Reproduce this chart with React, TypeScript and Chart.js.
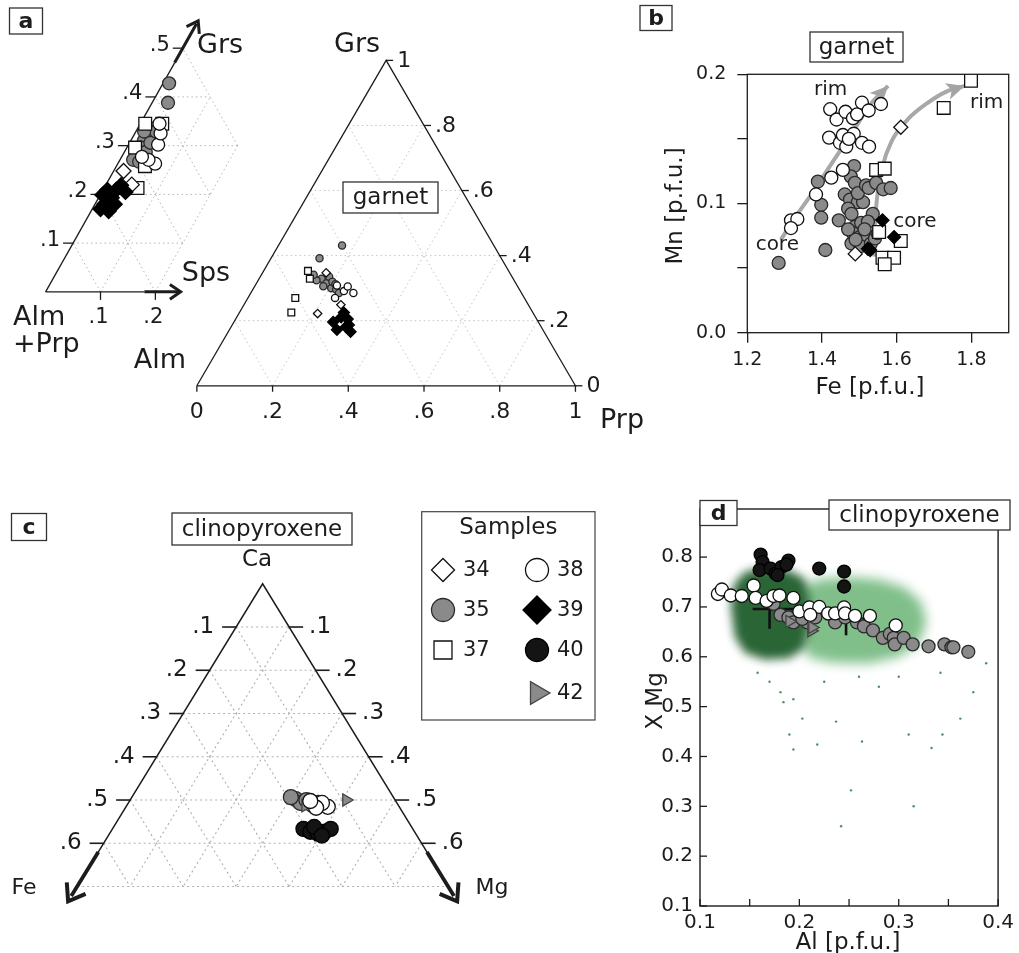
import React, { useEffect, useRef } from "react";
import { Chart, registerables } from "chart.js";

Chart.register(...registerables);

const FONT = "'DejaVu Sans', sans-serif";
const INK = "#1c1c1c";
const S3 = Math.sqrt(3) / 2;

/* ================= DATA ================= */
// Panel a (left): zoomed garnet ternary, points as [Sps, Grs]
const A1_GRS_TICKS = [0.1, 0.2, 0.3, 0.4, 0.5];
const A1_SPS_TICKS = [0.1, 0.2];
const A1_34 = [[0.018, 0.248], [0.047, 0.22]];
const A1_35 = [[0.011, 0.428], [0.029, 0.388], [0.029, 0.335], [0.027, 0.322], [0.024, 0.31], [0.026, 0.296], [0.026, 0.283], [0.024, 0.271], [0.039, 0.287], [0.038, 0.306], [0.037, 0.329], [0.015, 0.329], [0.037, 0.267]];
const A1_37 = [[0.009, 0.345], [0.04, 0.345], [0.052, 0.258], [0.061, 0.213], [0.015, 0.296]];
const A1_38 = [[0.054, 0.302], [0.047, 0.325], [0.068, 0.263], [0.052, 0.271], [0.035, 0.345], [0.037, 0.277]];
const A1_39 = [[0.017, 0.18], [0.004, 0.199], [0.008, 0.209], [0.024, 0.193], [0.024, 0.209], [0.028, 0.219], [0.043, 0.205], [0.032, 0.166], [0.036, 0.18], [0.015, 0.17]];

// Panel a (right): garnet ternary Alm–Prp–Grs, points as [Prp, Grs]
const A2_TICKS = [0, 0.2, 0.4, 0.6, 0.8, 1];
const A2_34 = [[0.208, 0.222], [0.256, 0.249], [0.168, 0.347]];
const A2_35 = [[0.168, 0.431], [0.128, 0.392], [0.165, 0.329], [0.185, 0.315], [0.205, 0.3], [0.22, 0.296], [0.181, 0.306], [0.182, 0.335], [0.233, 0.285], [0.154, 0.324], [0.138, 0.341], [0.198, 0.32], [0.21, 0.312]];
const A2_37 = [[0.125, 0.27], [0.137, 0.225], [0.117, 0.353], [0.134, 0.329]];
const A2_38 = [[0.271, 0.285], [0.243, 0.291], [0.216, 0.308], [0.246, 0.305], [0.23, 0.27]];
const A2_39 = [[0.262, 0.196], [0.276, 0.21], [0.296, 0.205], [0.303, 0.181], [0.323, 0.166], [0.284, 0.172], [0.276, 0.225], [0.308, 0.187]];

// Panel b: garnet Fe vs Mn [p.f.u.], points as [Fe, Mn]
const B_X_TICKS = [1.2, 1.4, 1.6, 1.8];
const B_Y_TICKS = [0, 0.05, 0.1, 0.15, 0.2];
const B_34 = [[1.611, 0.159], [1.489, 0.061]];
const B_35 = [[1.284, 0.054], [1.409, 0.064], [1.389, 0.117], [1.398, 0.099], [1.398, 0.089], [1.445, 0.087], [1.486, 0.129], [1.477, 0.121], [1.488, 0.116], [1.461, 0.107], [1.475, 0.103], [1.496, 0.101], [1.51, 0.101], [1.47, 0.096], [1.479, 0.092], [1.496, 0.108], [1.518, 0.114], [1.525, 0.112], [1.545, 0.116], [1.564, 0.111], [1.584, 0.112], [1.536, 0.092], [1.488, 0.082], [1.505, 0.085], [1.523, 0.086], [1.483, 0.077], [1.501, 0.074], [1.518, 0.072], [1.479, 0.069], [1.503, 0.067], [1.531, 0.069], [1.542, 0.073], [1.549, 0.077], [1.49, 0.072], [1.47, 0.08], [1.514, 0.08]];
const B_37 = [[1.799, 0.195], [1.726, 0.174], [1.545, 0.126], [1.568, 0.127], [1.553, 0.078], [1.611, 0.071], [1.562, 0.058], [1.593, 0.058], [1.568, 0.053]];
const B_38 = [[1.422, 0.173], [1.439, 0.165], [1.463, 0.171], [1.483, 0.166], [1.494, 0.169], [1.507, 0.178], [1.525, 0.172], [1.558, 0.177], [1.419, 0.151], [1.448, 0.147], [1.456, 0.153], [1.465, 0.144], [1.485, 0.154], [1.507, 0.147], [1.526, 0.144], [1.425, 0.12], [1.456, 0.126], [1.384, 0.107], [1.317, 0.087], [1.334, 0.088], [1.317, 0.081], [1.472, 0.15]];
const B_39 = [[1.562, 0.087], [1.593, 0.074], [1.523, 0.065], [1.529, 0.064]];
const B_ARROW_1 = [[1.29, 0.072], [1.33, 0.09], [1.374, 0.108], [1.426, 0.131], [1.479, 0.154], [1.532, 0.1775], [1.577, 0.191]];
const B_ARROW_2 = [[1.54, 0.059], [1.542, 0.082], [1.547, 0.103], [1.562, 0.1285], [1.588, 0.149], [1.628, 0.1646], [1.681, 0.1775], [1.733, 0.1866], [1.782, 0.191]];

// Panel c: clinopyroxene ternary Ca–Fe–Mg, points as [Ca, Mg]
const C_TICKS = [0.1, 0.2, 0.3, 0.4, 0.5, 0.6];
const C_35 = [[0.5022, 0.3113], [0.4933, 0.325], [0.5, 0.3326], [0.4889, 0.349], [0.4933, 0.358], [0.5067, 0.2999]];
const C_38 = [[0.4844, 0.3807], [0.4933, 0.3653], [0.4822, 0.3598], [0.4978, 0.341]];
const C_40 = [[0.4333, 0.3604], [0.4267, 0.3766], [0.4222, 0.3935], [0.4267, 0.404], [0.4333, 0.4118], [0.4378, 0.3783], [0.4178, 0.403]];
const C_42 = [[0.5, 0.4078], [0.4867, 0.3374]];

// Legend
const LEGEND_TITLE = "Samples";
const LEGEND_ROWS = [["34", "38"], ["35", "39"], ["37", "40"], [null, "42"]];

// Panel d: clinopyroxene Al vs X Mg, points as [Al, XMg]
const D_X_TICKS = [0.1, 0.15, 0.2, 0.25, 0.3, 0.35, 0.4];
const D_Y_TICKS = [0.1, 0.2, 0.3, 0.4, 0.5, 0.6, 0.7, 0.8];
const D_35 = [[0.174, 0.706], [0.181, 0.684], [0.189, 0.679], [0.194, 0.669], [0.208, 0.669], [0.203, 0.676], [0.216, 0.679], [0.236, 0.669], [0.246, 0.679], [0.258, 0.669], [0.265, 0.661], [0.274, 0.653], [0.284, 0.638], [0.291, 0.646], [0.295, 0.638], [0.296, 0.625], [0.305, 0.638], [0.314, 0.625], [0.33, 0.621], [0.346, 0.625], [0.353, 0.619], [0.355, 0.619], [0.37, 0.61]];
const D_38 = [[0.118, 0.726], [0.122, 0.735], [0.131, 0.723], [0.142, 0.722], [0.154, 0.743], [0.156, 0.718], [0.167, 0.712], [0.174, 0.722], [0.18, 0.723], [0.194, 0.718], [0.2, 0.691], [0.21, 0.699], [0.22, 0.7], [0.211, 0.684], [0.229, 0.687], [0.236, 0.687], [0.245, 0.699], [0.246, 0.687], [0.256, 0.682], [0.271, 0.682], [0.297, 0.663]];
const D_40 = [[0.161, 0.805], [0.163, 0.79], [0.16, 0.774], [0.171, 0.777], [0.176, 0.767], [0.182, 0.78], [0.189, 0.793], [0.178, 0.764], [0.187, 0.785], [0.22, 0.777], [0.245, 0.771], [0.245, 0.741]];
const D_42 = [[0.19, 0.671], [0.212, 0.652], [0.213, 0.659]];
const D_ERR_H1 = [[0.153, 0.696], [0.194, 0.696]];
const D_ERR_V1 = [[0.17, 0.656], [0.17, 0.718]];
const D_ERR_H2 = [[0.226, 0.676], [0.276, 0.676]];
const D_ERR_V2 = [[0.247, 0.643], [0.247, 0.705]];
const D_CLOUD_LIGHT = [[0.2, 0.738], [0.22, 0.755], [0.25, 0.76], [0.28, 0.755], [0.305, 0.74], [0.322, 0.712], [0.328, 0.67], [0.32, 0.626], [0.3, 0.6], [0.27, 0.587], [0.235, 0.588], [0.21, 0.598], [0.2, 0.64]];
const D_CLOUD_DARK = [[0.134, 0.745], [0.145, 0.77], [0.165, 0.779], [0.19, 0.773], [0.205, 0.757], [0.21, 0.72], [0.209, 0.66], [0.205, 0.617], [0.19, 0.597], [0.165, 0.594], [0.145, 0.608], [0.135, 0.64], [0.131, 0.7]];
const D_SPECKS = [[0.194, 0.515], [0.184, 0.509], [0.203, 0.476], [0.19, 0.444], [0.194, 0.414], [0.218, 0.424], [0.237, 0.47], [0.263, 0.43], [0.252, 0.332], [0.242, 0.26], [0.31, 0.444], [0.333, 0.417], [0.344, 0.444], [0.315, 0.3], [0.375, 0.529], [0.181, 0.529], [0.158, 0.568], [0.342, 0.568], [0.362, 0.476], [0.388, 0.587], [0.17, 0.55], [0.28, 0.54], [0.3, 0.56], [0.225, 0.55], [0.26, 0.56]];

/* ================= STYLES ================= */
const MARK: Record<string, any> = {
  "34": { ps: "rectRot", bg: "#ffffff", bd: "#111111" },
  "35": { ps: "circle", bg: "#8a8a8a", bd: "#2a2a2a" },
  "37": { ps: "rect", bg: "#ffffff", bd: "#111111" },
  "38": { ps: "circle", bg: "#ffffff", bd: "#111111" },
  "39": { ps: "rectRot", bg: "#000000", bd: "#000000" },
  "40": { ps: "circle", bg: "#141414", bd: "#000000" },
  "42": { ps: "triangle", bg: "#8a8a8a", bd: "#444444", rot: 90 },
};
const LEG_R: Record<string, number> = { "34": 11.5, "35": 11.5, "37": 12.7, "38": 11.5, "39": 14, "40": 11.5, "42": 13 };

/* ================= HELPERS ================= */
const fmtT = (v: number) => (v === 0 ? "0" : v === 1 ? "1" : v.toFixed(1).replace(/^0/, ""));
const a1 = (s: number, g: number) => ({ x: s + g / 2, y: g * S3 });
const a2 = (p: number, g: number) => ({ x: p + g / 2, y: g * S3 });
const cxy = (ca: number, mg: number) => ({ x: (2 * mg + ca - 1) / 2, y: ca });
const xy = (a: number, b: number) => ({ x: a, y: b });

function pts(arr: number[][], f: (a: number, b: number) => { x: number; y: number }) {
  return arr.map(([a, b]) => f(a, b));
}

function setOf(sample: string, data: any[], r: number, order = 0) {
  const m = MARK[sample];
  return {
    label: sample,
    data,
    pointStyle: m.ps,
    pointRadius: r,
    pointRotation: m.rot || 0,
    pointBackgroundColor: m.bg,
    pointBorderColor: m.bd,
    pointBorderWidth: 1.3,
    showLine: false,
    order,
  };
}

function text(ctx: any, s: string, x: number, y: number, size: number, o: any = {}) {
  ctx.save();
  ctx.font = `${o.bold ? "bold " : ""}${size}px ${FONT}`;
  ctx.fillStyle = o.color || INK;
  ctx.textAlign = o.align || "center";
  ctx.textBaseline = o.baseline || "middle";
  ctx.translate(x, y);
  if (o.rot) ctx.rotate(o.rot);
  ctx.fillText(s, 0, 0);
  ctx.restore();
}

function boxText(ctx: any, s: string, cx: number, cy: number, w: number, h: number, size: number, bold = false) {
  ctx.save();
  ctx.fillStyle = "#ffffff";
  ctx.fillRect(cx - w / 2, cy - h / 2, w, h);
  ctx.strokeStyle = "#333333";
  ctx.lineWidth = 1.3;
  ctx.strokeRect(cx - w / 2, cy - h / 2, w, h);
  ctx.restore();
  text(ctx, s, cx, cy + 1, size, { bold });
}

function seg(ctx: any, p: number[][], lw: number, color = INK, dash: number[] = []) {
  ctx.save();
  ctx.strokeStyle = color;
  ctx.lineWidth = lw;
  ctx.setLineDash(dash);
  ctx.beginPath();
  p.forEach((q, i) => (i ? ctx.lineTo(q[0], q[1]) : ctx.moveTo(q[0], q[1])));
  ctx.stroke();
  ctx.restore();
}

function chevron(ctx: any, tip: number[], from: number[], len: number, lw: number, half = 0.6) {
  const a = Math.atan2(tip[1] - from[1], tip[0] - from[0]);
  const p1 = [tip[0] - len * Math.cos(a - half), tip[1] - len * Math.sin(a - half)];
  const p2 = [tip[0] - len * Math.cos(a + half), tip[1] - len * Math.sin(a + half)];
  ctx.save();
  ctx.lineJoin = "miter";
  seg(ctx, [p1, tip, p2], lw);
  ctx.restore();
}

function marker(ctx: any, sample: string, x: number, y: number, r: number) {
  const m = MARK[sample];
  ctx.save();
  ctx.fillStyle = m.bg;
  ctx.strokeStyle = m.bd;
  ctx.lineWidth = 1.3;
  ctx.beginPath();
  if (m.ps === "circle") ctx.arc(x, y, r, 0, Math.PI * 2);
  else if (m.ps === "rect") {
    const s = r * Math.SQRT1_2;
    ctx.rect(x - s, y - s, 2 * s, 2 * s);
  } else if (m.ps === "rectRot") {
    ctx.moveTo(x, y - r);
    ctx.lineTo(x + r, y);
    ctx.lineTo(x, y + r);
    ctx.lineTo(x - r, y);
    ctx.closePath();
  } else {
    const a = ((m.rot || 0) * Math.PI) / 180;
    for (let i = 0; i < 3; i++) {
      const t = a + (i * 2 * Math.PI) / 3;
      const qx = x + Math.sin(t) * r;
      const qy = y - Math.cos(t) * r;
      if (i) ctx.lineTo(qx, qy);
      else ctx.moveTo(qx, qy);
    }
    ctx.closePath();
  }
  ctx.fill();
  ctx.stroke();
  ctx.restore();
}

const pix = (c: any, x: number, y: number) => [c.scales.x.getPixelForValue(x), c.scales.y.getPixelForValue(y)];

function ternOpts(w: number, h: number, ox: number, oy: number, kx: number, ky: number) {
  return {
    responsive: false,
    animation: false,
    events: [],
    layout: { padding: 0 },
    plugins: { legend: { display: false }, tooltip: { enabled: false } },
    scales: {
      x: { type: "linear", display: false, min: -ox / kx, max: (w - ox) / kx },
      y: { type: "linear", display: false, min: -(h - oy) / ky, max: oy / ky },
    },
  };
}

/* ================= PANEL a (left) ================= */
const a1Plugin = {
  id: "a1deco",
  beforeDatasetsDraw(c: any) {
    const ctx = c.ctx;
    const P = (s: number, g: number) => {
      const q = a1(s, g);
      return pix(c, q.x, q.y);
    };
    const dot = [1.5, 3];
    for (const g of [0.1, 0.2, 0.3, 0.4]) seg(ctx, [P(0, g), P(Math.min(0.2, 0.5 - g), g)], 1, "#b4b4b4", dot);
    for (const s of [0.1, 0.2]) seg(ctx, [P(s, 0), P(s, 0.5 - s)], 1, "#b4b4b4", dot);
    for (const a of [0.9, 0.8, 0.7, 0.6, 0.5]) {
      const k = 1 - a;
      const s0 = Math.min(0.2, k);
      seg(ctx, [P(s0, k - s0), P(0, k)], 1, "#b4b4b4", dot);
    }
    seg(ctx, [P(0, 0), P(0, 0.47)], 1.3);
    seg(ctx, [P(0, 0.47), P(0, 0.55)], 3);
    chevron(ctx, P(0, 0.556), P(0, 0.5), 13, 3);
    seg(ctx, [P(0, 0), P(0.18, 0)], 1.3);
    seg(ctx, [P(0.18, 0), P(0.242, 0)], 3);
    chevron(ctx, P(0.246, 0), P(0.2, 0), 13, 3);
    for (const g of A1_GRS_TICKS) {
      const [x, y] = P(0, g);
      seg(ctx, [[x, y], [x - 10, y]], 1.3);
      text(ctx, fmtT(g), x - 13, y - 3, 21, { align: "right" });
    }
    for (const s of A1_SPS_TICKS) {
      const [x, y] = P(s, 0);
      seg(ctx, [[x, y], [x, y + 8]], 1.3);
      text(ctx, fmtT(s), x - 2, y + 26, 21);
    }
    text(ctx, "Grs", 220, 46, 27);
    text(ctx, "Sps", 206, 274, 27);
    text(ctx, "Alm", 13, 318, 27, { align: "left" });
    text(ctx, "+Prp", 13, 345, 27, { align: "left" });
    boxText(ctx, "a", 26, 21, 33, 26, 22, true);
  },
};

const configA1 = () => ({
  type: "scatter",
  data: {
    datasets: [
      setOf("39", pts(A1_39, a1), 7.5, 1),
      setOf("34", pts(A1_34, a1), 7.5, 2),
      setOf("38", pts(A1_38, a1), 6.5, 3),
      setOf("37", pts(A1_37, a1), 9, 4),
      setOf("35", pts(A1_35, a1), 6.5, 5),
    ],
  },
  options: ternOpts(265, 380, 38.3, 297.7, 595, 595),
  plugins: [a1Plugin],
});

/* ================= PANEL a (right) ================= */
// canvas placed at page (100, 20)
const a2Plugin = {
  id: "a2deco",
  beforeDatasetsDraw(c: any) {
    const ctx = c.ctx;
    const P = (p: number, g: number) => {
      const q = a2(p, g);
      return pix(c, q.x, q.y);
    };
    const dot = [1.5, 3];
    for (const v of [0.2, 0.4, 0.6, 0.8]) {
      seg(ctx, [P(0, v), P(1 - v, v)], 1, "#c4c4c4", dot);
      seg(ctx, [P(v, 0), P(v, 1 - v)], 1, "#c4c4c4", dot);
      seg(ctx, [P(1 - v, 0), P(0, 1 - v)], 1, "#c4c4c4", dot);
    }
    seg(ctx, [P(0, 0), P(1, 0), P(0, 1), P(0, 0)], 1.3);
    for (const v of A2_TICKS) {
      const [x, y] = P(v, 0);
      seg(ctx, [[x, y], [x, y + 6]], 1.3);
      text(ctx, fmtT(v), x, y + 27, 22);
      const [rx, ry] = P(1 - v, v);
      seg(ctx, [[rx, ry], [rx + 7, ry]], 1.3);
      text(ctx, fmtT(v), rx + 11, ry + 1, 22, { align: "left" });
    }
    text(ctx, "Grs", 257, 25, 27);
    text(ctx, "Alm", 86, 341, 27, { align: "right" });
    text(ctx, "Prp", 522, 401, 27);
  },
  afterDraw(c: any) {
    boxText(c.ctx, "garnet", 290.5, 177.5, 95, 31, 23);
  },
};

const configA2 = () => ({
  type: "scatter",
  data: {
    datasets: [
      setOf("39", pts(A2_39, a2), 5.5, 1),
      setOf("34", pts(A2_34, a2), 4.2, 2),
      setOf("38", pts(A2_38, a2), 3.6, 3),
      setOf("37", pts(A2_37, a2), 4.8, 4),
      setOf("35", pts(A2_35, a2), 3.6, 5),
    ],
  },
  options: ternOpts(560, 430, 92.3, 370.7, 388, 388),
  plugins: [a2Plugin],
});

/* ================= PANEL b ================= */
const bPlugin = {
  id: "bdeco",
  beforeDatasetsDraw(c: any) {
    const { left, top, right, bottom } = c.chartArea;
    c.ctx.save();
    c.ctx.strokeStyle = INK;
    c.ctx.lineWidth = 1.3;
    c.ctx.strokeRect(left, top, right - left, bottom - top);
    c.ctx.restore();
  },
  afterDatasetDraw(c: any, args: any) {
    const ds = c.data.datasets[args.index];
    if (!ds.arrowHead) return;
    const els = args.meta.data;
    const e = els[els.length - 1];
    const p = els[els.length - 2];
    let dx = e.x - (e.cp1x ?? p.x);
    let dy = e.y - (e.cp1y ?? p.y);
    if (Math.hypot(dx, dy) < 1) {
      dx = e.x - p.x;
      dy = e.y - p.y;
    }
    const a = Math.atan2(dy, dx);
    const L = 18;
    const W = 8.5;
    const ctx = c.ctx;
    ctx.save();
    ctx.fillStyle = "#a4a4a4";
    ctx.beginPath();
    ctx.moveTo(e.x, e.y);
    ctx.lineTo(e.x - L * Math.cos(a) + W * Math.sin(a), e.y - L * Math.sin(a) - W * Math.cos(a));
    ctx.lineTo(e.x - 0.75 * L * Math.cos(a), e.y - 0.75 * L * Math.sin(a));
    ctx.lineTo(e.x - L * Math.cos(a) - W * Math.sin(a), e.y - L * Math.sin(a) + W * Math.cos(a));
    ctx.closePath();
    ctx.fill();
    ctx.restore();
  },
  afterDraw(c: any) {
    const ctx = c.ctx;
    text(ctx, "rim", 200.7, 90, 20);
    text(ctx, "rim", 356.7, 103, 20);
    text(ctx, "core", 147.3, 245, 20);
    text(ctx, "core", 285, 222, 20);
    text(ctx, "Fe [p.f.u.]", 240, 388, 23);
    text(ctx, "Mn [p.f.u.]", 46, 206, 23, { rot: -Math.PI / 2 });
    boxText(ctx, "garnet", 226.5, 47, 93, 30, 23);
    boxText(ctx, "b", 26, 18, 32, 25, 22, true);
  },
};

const arrowSet = (arr: number[][]) => ({
  data: pts(arr, xy),
  showLine: true,
  borderColor: "#a8a8a8",
  borderWidth: 4,
  pointRadius: 0,
  cubicInterpolationMode: "monotone",
  fill: false,
  order: 10,
  arrowHead: true,
});

const configB = () => ({
  type: "scatter",
  data: {
    datasets: [
      arrowSet(B_ARROW_1),
      arrowSet(B_ARROW_2),
      setOf("39", pts(B_39, xy), 6.5, 1),
      setOf("34", pts(B_34, xy), 7, 2),
      setOf("37", pts(B_37, xy), 9, 2),
      setOf("38", pts(B_38, xy), 6.5, 3),
      setOf("35", pts(B_35, xy), 6.5, 4),
    ],
  },
  options: {
    responsive: false,
    animation: false,
    events: [],
    layout: { padding: { left: 0, top: 74.3, right: 7, bottom: 0 } },
    plugins: { legend: { display: false }, tooltip: { enabled: false } },
    scales: {
      x: {
        type: "linear",
        min: 1.2,
        max: 1.9,
        afterBuildTicks: (s: any) => {
          s.ticks = B_X_TICKS.map((v) => ({ value: v }));
        },
        afterFit: (s: any) => {
          s.height = 77.3;
        },
        grid: { drawOnChartArea: false, tickLength: 10, color: INK, lineWidth: 1.3 },
        border: { display: false },
        ticks: { autoSkip: false, maxRotation: 0, padding: 6, color: INK, font: { family: FONT, size: 19 }, callback: (v: number) => v.toFixed(1) },
      },
      y: {
        type: "linear",
        min: 0,
        max: 0.2,
        afterBuildTicks: (s: any) => {
          s.ticks = B_Y_TICKS.map((v) => ({ value: v }));
        },
        afterFit: (s: any) => {
          s.width = 117.3;
        },
        grid: { drawOnChartArea: false, tickLength: 10, color: INK, lineWidth: 1.3 },
        border: { display: false },
        ticks: {
          autoSkip: false,
          padding: 11,
          color: INK,
          font: { family: FONT, size: 19 },
          callback: (v: number) => (Math.round(v * 100) % 10 === 0 ? v.toFixed(1) : ""),
        },
      },
    },
  },
  plugins: [bPlugin],
});

/* ================= PANEL c ================= */
const cPlugin = {
  id: "cdeco",
  beforeDatasetsDraw(c: any) {
    const ctx = c.ctx;
    const P = (ca: number, mg: number) => {
      const q = cxy(ca, mg);
      return pix(c, q.x, q.y);
    };
    const dot = [2, 3];
    const gc = "#b0b0b0";
    for (let i = 1; i <= 7; i++) {
      const t = i / 10;
      seg(ctx, [P(1 - t, 0), P(1 - t, t)], 1.1, gc, dot);
      seg(ctx, [P(1 - t, 0), P(0.3, 0.7 - t)], 1.1, gc, dot);
      seg(ctx, [P(1 - t, t), P(0.3, t)], 1.1, gc, dot);
    }
    seg(ctx, [P(1 - 0.625, 0), P(1, 0), P(1 - 0.625, 0.625)], 1.5);
    seg(ctx, [P(1 - 0.62, 0), P(1 - 0.722, 0)], 3.8);
    seg(ctx, [P(1 - 0.62, 0.62), P(1 - 0.722, 0.722)], 3.8);
    chevron(ctx, P(1 - 0.734, 0), P(1 - 0.6, 0), 19, 4, 0.62);
    chevron(ctx, P(1 - 0.734, 0.734), P(1 - 0.6, 0.6), 19, 4, 0.62);
    for (const t of C_TICKS) {
      const [lx, ly] = P(1 - t, 0);
      seg(ctx, [[lx, ly], [lx - 14, ly]], 1.6);
      text(ctx, fmtT(t), lx - 22, ly, 23, { align: "right" });
      const [rx, ry] = P(1 - t, t);
      seg(ctx, [[rx, ry], [rx + 14, ry]], 1.6);
      text(ctx, fmtT(t), rx + 20, ry, 23, { align: "left" });
    }
    text(ctx, "Ca", 257, 60, 23);
    text(ctx, "Fe", 24, 388, 22);
    text(ctx, "Mg", 492, 388, 22);
  },
  afterDraw(c: any) {
    const ctx = c.ctx;
    boxText(ctx, "clinopyroxene", 262, 29, 180, 32, 23);
    boxText(ctx, "c", 29, 27, 35, 27, 22, true);
    ctx.save();
    ctx.strokeStyle = "#444444";
    ctx.lineWidth = 1.2;
    ctx.strokeRect(421.7, 11.7, 173.3, 208.3);
    ctx.restore();
    text(ctx, LEGEND_TITLE, 508.3, 28, 23);
    const rowsY = [70, 110, 150, 193];
    LEGEND_ROWS.forEach((row, i) => {
      row.forEach((s, j) => {
        if (!s) return;
        const mx = j === 0 ? 443 : 537;
        marker(ctx, s, mx, rowsY[i], LEG_R[s]);
        text(ctx, s, mx + 20, rowsY[i] + 1, 21, { align: "left" });
      });
    });
  },
};

const configC = () => ({
  type: "scatter",
  data: {
    datasets: [
      setOf("40", pts(C_40, cxy), 7.5, 1),
      setOf("38", pts(C_38, cxy), 7.5, 2),
      setOf("42", pts(C_42, cxy), 7, 3),
      setOf("35", pts(C_35, cxy), 7.5, 4),
    ],
  },
  options: ternOpts(640, 453, 261, 528, 545, 450),
  plugins: [cPlugin],
});

/* ================= PANEL d ================= */
const dPlugin = {
  id: "ddeco",
  beforeDatasetsDraw(c: any) {
    const ctx = c.ctx;
    const poly = (arr: number[][], color: string, blur: number) => {
      ctx.save();
      ctx.filter = `blur(${blur}px)`;
      ctx.fillStyle = color;
      ctx.beginPath();
      arr.forEach(([a, b], i) => {
        const [x, y] = pix(c, a, b);
        if (i) ctx.lineTo(x, y);
        else ctx.moveTo(x, y);
      });
      ctx.closePath();
      ctx.fill();
      ctx.restore();
    };
    poly(D_CLOUD_LIGHT, "#80bf8a", 6);
    poly(D_CLOUD_DARK, "#2a6536", 5);
  },
  afterDatasetsDraw(c: any) {
    const ctx = c.ctx;
    const { left, top, right, bottom } = c.chartArea;
    ctx.save();
    ctx.strokeStyle = INK;
    ctx.lineWidth = 1.4;
    ctx.strokeRect(left, top, right - left, bottom - top);
    ctx.restore();
    for (const v of D_X_TICKS) {
      const x = c.scales.x.getPixelForValue(v);
      seg(ctx, [[x, bottom], [x, bottom - 7]], 1.3);
    }
    for (const v of D_Y_TICKS) {
      const y = c.scales.y.getPixelForValue(v);
      seg(ctx, [[left, y], [left + 7, y]], 1.3);
    }
  },
  afterDraw(c: any) {
    const ctx = c.ctx;
    boxText(ctx, "d", 78.5, 23, 37, 25, 22, true);
    boxText(ctx, "clinopyroxene", 279.5, 25, 181, 30, 23);
    text(ctx, "Al [p.f.u.]", 208, 453, 23);
    text(ctx, "X Mg", 16, 211, 23, { rot: -Math.PI / 2 });
  },
};

const lineSet = (arr: number[][]) => ({
  data: pts(arr, xy),
  showLine: true,
  borderColor: "#111111",
  borderWidth: 2.6,
  pointRadius: 0,
  fill: false,
  order: 6,
});

const configD = () => ({
  type: "scatter",
  data: {
    datasets: [
      {
        data: pts(D_SPECKS, xy),
        pointRadius: 1.2,
        pointBackgroundColor: "#4d8f5a",
        pointBorderWidth: 0,
        showLine: false,
        order: 12,
      },
      lineSet(D_ERR_H1),
      lineSet(D_ERR_V1),
      lineSet(D_ERR_H2),
      lineSet(D_ERR_V2),
      setOf("40", pts(D_40, xy), 6.5, 2),
      setOf("38", pts(D_38, xy), 6.5, 2),
      setOf("42", pts(D_42, xy), 7, 1),
      setOf("35", pts(D_35, xy), 6.5, 3),
    ],
  },
  options: {
    responsive: false,
    animation: false,
    events: [],
    layout: { padding: { left: 0, top: 9, right: 9.7, bottom: 0 } },
    plugins: { legend: { display: false }, tooltip: { enabled: false } },
    scales: {
      x: {
        type: "linear",
        min: 0.1,
        max: 0.4,
        afterBuildTicks: (s: any) => {
          s.ticks = D_X_TICKS.map((v) => ({ value: v }));
        },
        afterFit: (s: any) => {
          s.height = 47;
        },
        grid: { display: false, drawTicks: false },
        border: { display: false },
        ticks: {
          autoSkip: false,
          maxRotation: 0,
          padding: 5,
          color: INK,
          font: { family: FONT, size: 20 },
          callback: (v: number) => (Math.round(v * 100) % 10 === 0 ? v.toFixed(1) : ""),
        },
      },
      y: {
        type: "linear",
        min: 0.1,
        max: 0.8965,
        afterBuildTicks: (s: any) => {
          s.ticks = D_Y_TICKS.map((v) => ({ value: v }));
        },
        afterFit: (s: any) => {
          s.width = 60;
        },
        grid: { display: false, drawTicks: false },
        border: { display: false },
        ticks: { autoSkip: false, padding: 7, color: INK, font: { family: FONT, size: 20 }, callback: (v: number) => v.toFixed(1) },
      },
    },
  },
  plugins: [dPlugin],
});

/* ================= COMPONENTS ================= */
function ChartBox({ x, y, w, h, config }: any) {
  const ref = useRef<HTMLCanvasElement>(null);
  useEffect(() => {
    const chart = new Chart(ref.current as any, config() as any);
    return () => chart.destroy();
  }, []);
  return <canvas ref={ref} width={w} height={h} style={{ position: "absolute", left: x, top: y, width: w, height: h }} />;
}

export default function App() {
  return (
    <div style={{ position: "absolute", left: 0, top: 0, width: 1019, height: 953, background: "#ffffff", overflow: "hidden" }}>
      <ChartBox x={0} y={0} w={265} h={380} config={configA1} />
      <ChartBox x={100} y={20} w={560} h={430} config={configA2} />
      <ChartBox x={630} y={0} w={389} h={410} config={configB} />
      <ChartBox x={0} y={500} w={640} h={453} config={configC} />
      <ChartBox x={640} y={490} w={379} h={463} config={configD} />
    </div>
  );
}
